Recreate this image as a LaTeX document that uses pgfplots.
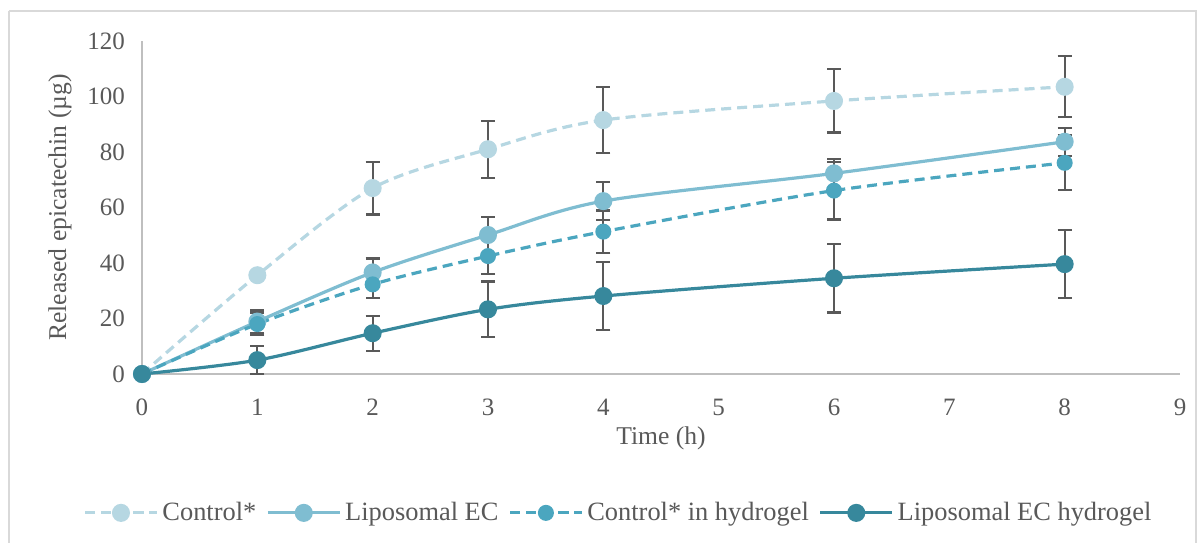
\documentclass[border=0pt]{standalone}
\usepackage{fontspec}
\setmainfont{Liberation Serif}
\usepackage{pgfplots}
\pgfplotsset{compat=1.18}

\definecolor{ctrl}{HTML}{B6D7E2}
\definecolor{lipo}{HTML}{7FBDD1}
\definecolor{ctrlgel}{HTML}{4BA6BF}
\definecolor{lipogel}{HTML}{37889C}
\definecolor{txt}{HTML}{595959}
\definecolor{axline}{HTML}{BFBFBF}

\begin{document}
\begin{tikzpicture}
% page = 1203 x 542 px at 0.5pt per px, axis origin at px (142,374)
\useasboundingbox (-71pt,-84pt) rectangle (530.5pt,187pt);
\draw[color=black!15, line width=0.8pt] (-66.5pt,181.5pt) -- (527pt,181.5pt) -- (527pt,-90pt);
\draw[color=black!15, line width=0.8pt] (-66.5pt,181.5pt) -- (-66.5pt,-90pt);
\begin{axis}[
at={(0,0)}, anchor=origin,
scale only axis,
width=519pt, height=166.5pt,
xmin=0, xmax=9, ymin=0, ymax=120,
xtick={0,1,...,9}, ytick={0,20,...,120},
axis lines=left,
axis line style={-, draw=axline, line width=0.9pt},
major tick length=0pt,
/pgf/number format/assume math mode=true,
tick label style={font=\fontsize{12.5}{14}\selectfont, text=txt},
xticklabel style={yshift=-9pt},
yticklabel style={xshift=-5pt},
xlabel={Time (h)},
ylabel={Released epicatechin (µg)},
every axis x label/.style={at={(axis description cs:0.5,0)}, anchor=center, yshift=-32pt,
  font=\fontsize{12.8}{15}\selectfont, text=txt},
every axis y label/.style={at={(axis description cs:0,0.5)}, rotate=90, anchor=center, yshift=41pt,
  font=\fontsize{12.8}{15}\selectfont, text=txt},
clip=false,
legend columns=4,
legend style={draw=none, at={(0.46,-0.417)}, anchor=center, font=\fontsize{13.2}{15}\selectfont, text=txt,
  /tikz/every odd column/.append style={column sep=0pt},
  /tikz/every even column/.append style={column sep=3pt}},
legend image code/.code={\draw[mark repeat=2, mark phase=2] plot coordinates {(0cm,0cm) (0.63cm,0cm) (1.26cm,0cm)};},
error bars/y dir=both, error bars/y explicit,
error bars/error bar style={solid, color=txt, line width=1.1pt},
error bars/error mark options={solid, color=txt, line width=1.1pt, mark size=3.5pt, rotate=90},
]
\addplot[ctrl, line width=1.6pt, dash pattern=on 5pt off 3pt, smooth, mark=*, mark size=3.7pt,
  mark options={solid, fill=ctrl, draw=ctrl}] coordinates {
(0,0) +- (0,0)
(1,35.6) +- (0,0)
(2,67) +- (0,9.5)
(3,81) +- (0,10.3)
(4,91.5) +- (0,12)
(6,98.4) +- (0,11.4)
(8,103.5) +- (0,11)
};
\addlegendentry{Control*}
\addplot[lipo, line width=1.6pt, smooth, mark=*, mark size=3.7pt,
  mark options={solid, fill=lipo, draw=lipo}] coordinates {
(0,0) +- (0,0)
(1,18.9) +- (0,4)
(2,36.6) +- (0,5)
(3,50.1) +- (0,6.6)
(4,62.3) +- (0,6.8)
(6,72.3) +- (0,5.2)
(8,83.7) +- (0,5)
};
\addlegendentry{Liposomal EC}
\addplot[ctrlgel, line width=1.6pt, dash pattern=on 5pt off 3pt, smooth, mark=*, mark size=3.2pt,
  mark options={solid, fill=ctrlgel, draw=ctrlgel}] coordinates {
(0,0) +- (0,0)
(1,18) +- (0,4)
(2,32.3) +- (0,4.8)
(3,42.5) +- (0,6.5)
(4,51.3) +- (0,7.6)
(6,66.1) +- (0,10.4)
(8,76.1) +- (0,9.9)
};
\addlegendentry{Control* in hydrogel}
\addplot[lipogel, line width=1.6pt, smooth, mark=*, mark size=3.7pt,
  mark options={solid, fill=lipogel, draw=lipogel}] coordinates {
(0,0) +- (0,0)
(1,5) +- (0,5)
(2,14.7) +- (0,6.3)
(3,23.3) +- (0,10)
(4,28.1) +- (0,12.2)
(6,34.5) +- (0,12.3)
(8,39.6) +- (0,12.2)
};
\addlegendentry{Liposomal EC hydrogel}
\end{axis}
\end{tikzpicture}
\end{document}
